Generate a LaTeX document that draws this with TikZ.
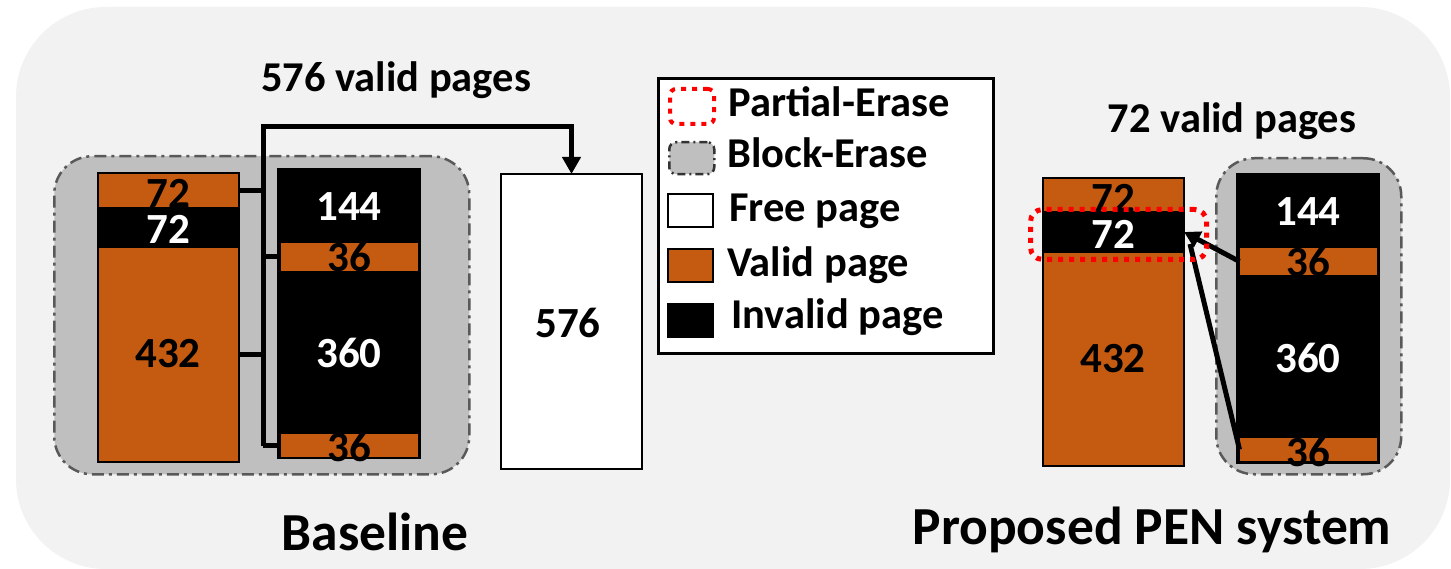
\documentclass[tikz,border=0pt]{standalone}
\usepackage{fontspec}
\setmainfont{Carlito}
\usetikzlibrary{arrows.meta}

\definecolor{valid}{HTML}{C55A11}
\definecolor{blockgray}{HTML}{BFBFBF}
\definecolor{panel}{HTML}{F2F2F2}
\definecolor{edgegray}{HTML}{595959}

\tikzset{
  x=1pt, y=-1pt,
  seg/.style={draw=black, line width=2.5pt, inner sep=0pt, outer sep=0pt, anchor=north west},
  validseg/.style={seg, fill=valid},
  invalidseg/.style={seg, fill=black},
  freeseg/.style={seg, fill=white},
  group/.style={draw=edgegray, fill=blockgray, line width=2.5pt,
    dash pattern=on 12pt off 5pt on 3pt off 5pt, rounded corners=38pt,
    inner sep=0pt, anchor=north west},
  partial/.style={draw=red, line width=5pt, dash pattern=on 5pt off 6pt,
    rounded corners=12pt, inner sep=0pt, anchor=north west},
  num/.style={font=\fontsize{43}{50}\selectfont\bfseries, inner sep=0pt},
  numw/.style={num, text=white},
  title/.style={font=\fontsize{42.5}{50}\selectfont\bfseries, inner sep=0pt, anchor=base},
  caption/.style={font=\fontsize{53.5}{62}\selectfont\bfseries, inner sep=0pt, anchor=base},
  legtext/.style={font=\fontsize{42.5}{50}\selectfont\bfseries, inner sep=0pt, anchor=base west},
  conn/.style={draw=black, line width=5pt, line join=miter},
  tip/.style={-{Triangle[length=17pt,width=18pt]}},
}

\begin{document}
\begin{tikzpicture}
  % canvas and rounded panel
  \fill[white] (0,0) rectangle (1451,569);
  \useasboundingbox (0,0) rectangle (1451,569);
  \fill[panel, rounded corners=90pt] (16,7) rectangle (1450,569);

  % ---------------- Baseline ----------------
  \node[group, minimum width=415pt, minimum height=318pt] (bgrp) at (53,155) {};

  % victim block
  \node[validseg,   minimum width=141pt, minimum height=35pt]  (bl72a) at (98,173) {};
  \node[invalidseg, minimum width=141pt, minimum height=39pt]  (bl72b) at (98,208) {};
  \node[validseg,   minimum width=141pt, minimum height=215pt] (bl432) at (98,247) {};
  \node[num]  (tbl72a) at (168,193) {72};
  \node[numw] (tbl72b) at (168,229) {72};
  \node[num]  (tbl432) at (168,354) {432};

  % second victim block
  \node[invalidseg, minimum width=142pt, minimum height=289pt] (brblk) at (278,169) {};
  \node[validseg, draw=none, minimum width=137pt, minimum height=28pt] (br36a) at (280.5,243) {};
  \node[validseg, draw=none, minimum width=137pt, minimum height=23pt] (br36b) at (280.5,434) {};
  \node[numw] (tbr144) at (349,207) {144};
  \node[num]  (tbr36a) at (349,257) {36};
  \node[numw] (tbr360) at (349,353) {360};
  \node[num]  (tbr36b) at (349,447) {36};

  % free block
  \node[freeseg, minimum width=141pt, minimum height=295pt] (free) at (501,174) {};
  \node[num] (tfree) at (568,323) {576};

  % migration bus
  \coordinate (bustop) at (263,127);
  \draw[conn] (bl72a.east) -- (bl72a.east -| bustop);
  \draw[conn] (bl432.east) -- (bl432.east -| bustop);
  \draw[conn] (br36a.west -| bustop) -- (br36a.west);
  \draw[conn] (br36b.west -| bustop) -- (br36b.west);
  \draw[conn, tip] (br36b.west -| bustop) -- (bustop) -| (free.north);

  \node[title] (tb) at (396,92) {576 valid pages};
  \node[caption] (capb) at (375,550) {Baseline};

  % ---------------- Legend ----------------
  \node[draw=black, fill=white, line width=3pt, minimum width=335pt, minimum height=275pt,
        inner sep=0pt, anchor=north west] (legend) at (657,77) {};
  \node[partial, line width=4pt, rounded corners=6pt, minimum width=44pt, minimum height=35pt] (lg1) at (668,87) {};
  \node[group, draw=black!80, line width=2.5pt, dash pattern=on 8pt off 4pt on 2pt off 4pt, rounded corners=7pt,
        minimum width=45pt, minimum height=32pt] (lg2) at (668,141) {};
  \node[freeseg, minimum width=45pt, minimum height=33pt] (lg3) at (668,194) {};
  \node[validseg, minimum width=45pt, minimum height=33pt] (lg4) at (668,249) {};
  \node[invalidseg, minimum width=45pt, minimum height=33pt] (lg5) at (668,304) {};
  \node[legtext] (lt1) at (728,117) {Partial-Erase};
  \node[legtext] (lt2) at (727,168) {Block-Erase};
  \node[legtext] (lt3) at (729,222) {Free page};
  \node[legtext] (lt4) at (727,277) {Valid page};
  \node[legtext] (lt5) at (731,329) {Invalid page};

  % ---------------- Proposed PEN ----------------
  \node[group, minimum width=185pt, minimum height=316pt] (pgrp) at (1215,157) {};

  \node[validseg,   minimum width=141pt, minimum height=34pt]  (pl72a) at (1043,178) {};
  \node[invalidseg, minimum width=141pt, minimum height=40pt]  (pl72b) at (1043,212) {};
  \node[validseg,   minimum width=141pt, minimum height=214pt] (pl432) at (1043,252) {};
  \node[num]  (tpl72a) at (1113,198) {72};
  \node[numw] (tpl72b) at (1113,234) {72};
  \node[num]  (tpl432) at (1113,359) {432};

  \node[invalidseg, minimum width=142pt, minimum height=289pt] (prblk) at (1237,174) {};
  \node[validseg, draw=none, minimum width=137pt, minimum height=27pt] (pr36a) at (1239.5,248) {};
  \node[validseg, draw=none, minimum width=137pt, minimum height=23pt] (pr36b) at (1239.5,438) {};
  \node[numw] (tpr144) at (1308,212) {144};
  \node[num]  (tpr36a) at (1308,262) {36};
  \node[numw] (tpr360) at (1308,358) {360};
  \node[num]  (tpr36b) at (1308,452) {36};

  % in-place copy of the two valid strips
  \coordinate (pmerge) at (1190,244);
  \draw[conn] (pr36b.west) -- (pmerge);
  \draw[conn, -{Triangle[length=16pt,width=17pt]}] (pr36a.west) -- (pl72b.east);

  % partially erased word line
  \node[partial, minimum width=176pt, minimum height=50pt] (perase) at (1028,207) {};

  \node[title] (tp) at (1232,133) {72 valid pages};
  \node[caption] (capp) at (1152,544) {Proposed PEN system};
\end{tikzpicture}
\end{document}
